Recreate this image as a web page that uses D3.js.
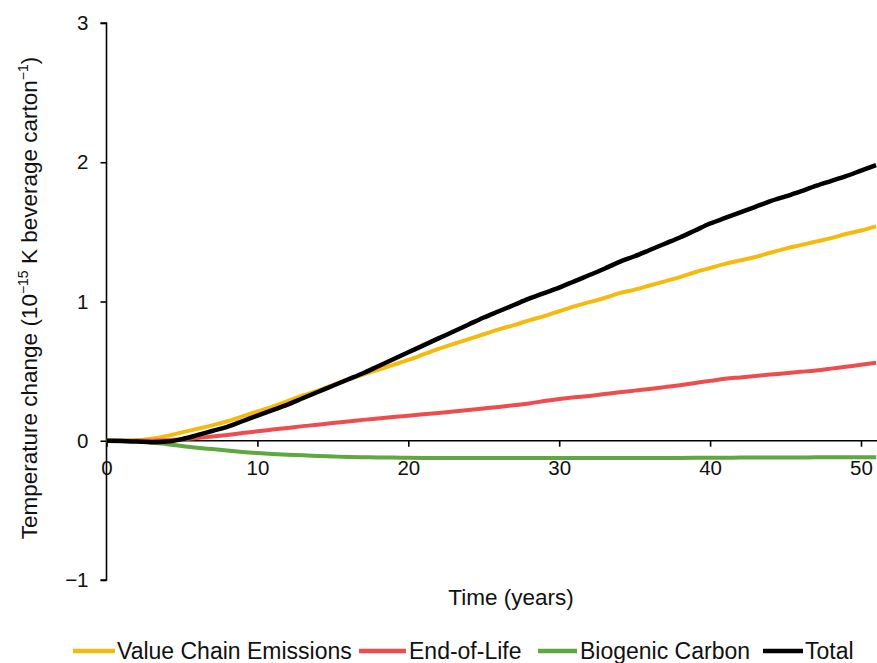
<!DOCTYPE html>
<html>
<head>
<meta charset="utf-8">
<script src="https://cdn.jsdelivr.net/npm/d3@7"></script>
<style>
  html, body { margin: 0; padding: 0; background: #fff; }
  svg { display: block; font-family: "Liberation Sans", Arial, sans-serif; }
</style>
</head>
<body>
<svg id="chart" width="877" height="663"></svg>
<script>
// ---- data ----
const years = d3.range(0, 52); // 0..51
const valueChain = [0,0,0.003,0.015,0.035,0.06,0.085,0.11,0.14,0.175,0.21,0.245,0.285,0.325,0.36,0.40,0.44,0.475,0.51,0.545,0.58,0.62,0.66,0.695,0.73,0.765,0.80,0.83,0.865,0.895,0.93,0.965,0.995,1.025,1.06,1.085,1.115,1.145,1.175,1.21,1.24,1.27,1.295,1.32,1.35,1.38,1.405,1.43,1.455,1.485,1.51,1.54];
const endOfLife = [0,0,0,0,0.003,0.01,0.02,0.03,0.042,0.055,0.068,0.08,0.092,0.105,0.115,0.127,0.138,0.15,0.16,0.17,0.18,0.19,0.20,0.21,0.22,0.232,0.242,0.255,0.268,0.285,0.30,0.312,0.322,0.335,0.348,0.36,0.372,0.385,0.398,0.415,0.43,0.445,0.455,0.465,0.475,0.485,0.495,0.505,0.518,0.532,0.545,0.56];
const biogenic = [0,0,-0.003,-0.012,-0.025,-0.038,-0.05,-0.06,-0.07,-0.08,-0.088,-0.095,-0.1,-0.105,-0.11,-0.113,-0.116,-0.118,-0.12,-0.121,-0.122,-0.123,-0.124,-0.124,-0.124,-0.124,-0.124,-0.124,-0.124,-0.124,-0.124,-0.124,-0.124,-0.124,-0.124,-0.124,-0.123,-0.123,-0.123,-0.122,-0.122,-0.122,-0.121,-0.121,-0.121,-0.12,-0.12,-0.119,-0.119,-0.118,-0.118,-0.118];
const total = [0,-0.002,-0.006,-0.01,-0.006,0.012,0.04,0.07,0.1,0.14,0.18,0.22,0.26,0.305,0.35,0.395,0.44,0.485,0.535,0.585,0.635,0.685,0.735,0.785,0.835,0.885,0.93,0.975,1.02,1.06,1.10,1.145,1.19,1.235,1.285,1.325,1.37,1.415,1.46,1.51,1.56,1.60,1.64,1.68,1.72,1.755,1.79,1.83,1.865,1.90,1.94,1.98];
const seriesNames = ["Value Chain Emissions", "End-of-Life", "Biogenic Carbon", "Total"];
const seriesValues = [valueChain, endOfLife, biogenic, total];
const seriesColors = ["#F6B90E", "#EE4D4F", "#5EA83F", "#000000"];
const xTicks = [0, 10, 20, 30, 40, 50];
const yTicks = [-1, 0, 1, 2, 3];

// ---- layout ----
const svg = d3.select("#chart");
const x = d3.scaleLinear().domain([0, 51.06]).range([106.5, 877]);
const y = d3.scaleLinear().domain([-1, 3]).range([580, 23]);

const fmt = d => d < 0 ? "\u2212" + Math.abs(d) : String(d);

// y axis
const yAxis = svg.append("g").attr("transform", `translate(${x(0)},0)`)
  .call(d3.axisLeft(y).tickValues(yTicks).tickSize(6).tickPadding(12).tickFormat(fmt));
yAxis.select(".domain").attr("stroke", "#000").attr("stroke-width", 1.6).attr("d", `M-6,${y(3)}H0V${y(-1)}H-6`);
yAxis.selectAll(".tick line").attr("stroke", "#000").attr("stroke-width", 1.6);
yAxis.selectAll(".tick text").attr("font-size", 20.5).attr("fill", "#111").attr("font-family", "Liberation Sans, Arial, sans-serif");

// x axis at y=0
const xAxis = svg.append("g").attr("transform", `translate(0,${y(0)})`)
  .call(d3.axisBottom(x).tickValues(xTicks).tickSize(6).tickPadding(14).tickFormat(fmt));
xAxis.select(".domain").attr("stroke", "#000").attr("stroke-width", 1.6).attr("d", `M${x(0)},0H877`);
xAxis.selectAll(".tick line").attr("stroke", "#000").attr("stroke-width", 1.6);
xAxis.selectAll(".tick text").attr("font-size", 20.5).attr("fill", "#111").attr("font-family", "Liberation Sans, Arial, sans-serif");

// lines
const line = d3.line().x((d, i) => x(years[i])).y(d => y(d)).curve(d3.curveMonotoneX);
seriesValues.forEach((vals, k) => {
  svg.append("path").datum(vals)
    .attr("fill", "none")
    .attr("stroke", seriesColors[k])
    .attr("stroke-width", k === 3 ? 4.5 : 4)
    .attr("stroke-linejoin", "round")
    .attr("d", line);
});

// axis titles
svg.append("text").attr("x", 511).attr("y", 605).attr("text-anchor", "middle")
  .attr("font-size", 22.5).attr("fill", "#111").text("Time (years)");

const yt = svg.append("text").attr("transform", "translate(37,298) rotate(-90)")
  .attr("text-anchor", "middle").attr("font-size", 22.5).attr("fill", "#111");
yt.append("tspan").text("Temperature change (10");
yt.append("tspan").attr("font-size", 14).attr("dy", -9).text("\u221215");
yt.append("tspan").attr("dy", 9).text(" K beverage carton");
yt.append("tspan").attr("font-size", 14).attr("dy", -9).text("\u22121");
yt.append("tspan").attr("dy", 9).text(")");

// legend
const legendLineX = [73, 359, 538, 763];
const legendLineW = [42, 47, 39, 40];
const legendTextX = [117, 409, 580, 805];
const lg = svg.append("g");
seriesNames.forEach((name, k) => {
  lg.append("line").attr("x1", legendLineX[k]).attr("x2", legendLineX[k] + legendLineW[k])
    .attr("y1", 651).attr("y2", 651)
    .attr("stroke", seriesColors[k]).attr("stroke-width", 4.5);
  lg.append("text").attr("x", legendTextX[k]).attr("y", 659).attr("font-size", 23)
    .attr("fill", "#111").text(name);
});
</script>
</body>
</html>
